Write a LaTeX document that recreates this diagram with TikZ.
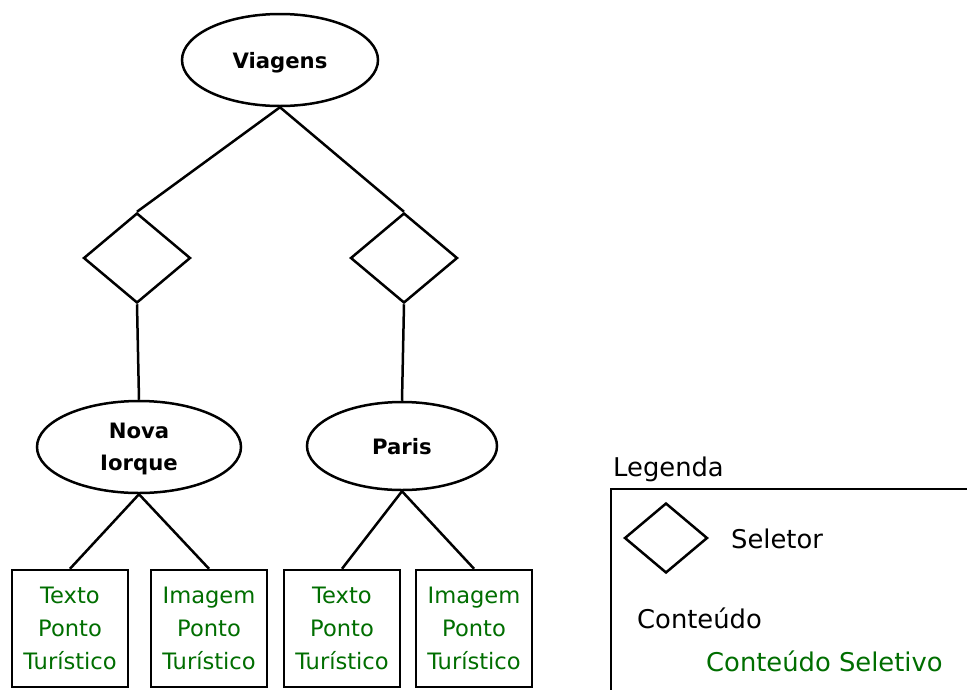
\documentclass[tikz,border=0pt]{standalone}
\usepackage{fontspec}
\setmainfont{DejaVu Sans}
\usetikzlibrary{shapes.geometric}
\definecolor{sel}{RGB}{0,110,0}
\tikzset{
  base/.style={draw=black, line width=2.5pt},
  topic/.style={base, ellipse, inner sep=0pt, align=center, text depth=0pt,
    font=\fontsize{21.2}{32}\selectfont\bfseries},
  selector/.style={base, diamond, inner sep=0pt, minimum width=107pt, minimum height=90pt},
  content/.style={base, rectangle, inner sep=0pt, minimum width=116pt, minimum height=117pt,
    align=center, text=sel, font=\fontsize{22.6}{33}\selectfont},
  link/.style={black, line width=2.5pt},
  legendtext/.style={inner sep=0pt, anchor=west, font=\fontsize{25.8}{30}\selectfont},
}
\begin{document}
\begin{tikzpicture}[x=1pt, y=-1pt]
  \useasboundingbox (0,0) rectangle (967,689);
  \fill[white] (0,0) rectangle (967,689);

  % root topic
  \node[topic, minimum width=196pt, minimum height=92pt] (viagens) at (280,60) {Viagens};

  % selectors
  \node[selector] (selL) at (137,258) {};
  \node[selector] (selR) at (404,258) {};

  % destinations
  \node[topic, minimum width=204pt, minimum height=92pt] (nova) at (139,447) {Nova\\Iorque};
  \node[topic, minimum width=190pt, minimum height=88pt] (paris) at (402,446) {Paris};

  % contents
  \node[content] (texto1) at (70,628.5) {Texto\\Ponto\\Turístico};
  \node[content] (imagem1) at (209,628.5) {Imagem\\Ponto\\Turístico};
  \node[content] (texto2) at (342,628.5) {Texto\\Ponto\\Turístico};
  \node[content] (imagem2) at (474,628.5) {Imagem\\Ponto\\Turístico};

  % connectors
  \draw[link] (viagens.south) -- (selL.north);
  \draw[link] (viagens.south) -- (selR.north);
  \draw[link] (selL.south) -- (nova.north);
  \draw[link] (selR.south) -- (paris.north);
  \draw[link] (nova.south) -- (texto1.north);
  \draw[link] (nova.south) -- (imagem1.north);
  \draw[link] (paris.south) -- (texto2.north);
  \draw[link] (paris.south) -- (imagem2.north);

  % legend
  \node[legendtext, anchor=base west] (legTitle) at (613,476) {Legenda};
  \draw[base] (975,489) -- (611,489) -- (611,700);
  \node[base, diamond, inner sep=0pt, minimum width=83pt, minimum height=70pt] (legSel) at (666,538) {};
  \node[legendtext] (legSelTxt) at (731,539) {Seletor};
  \node[legendtext] (legCont) at (637,618) {Conteúdo};
  \node[legendtext, text=sel] (legSelCont) at (706,661) {Conteúdo Seletivo};
\end{tikzpicture}
\end{document}
